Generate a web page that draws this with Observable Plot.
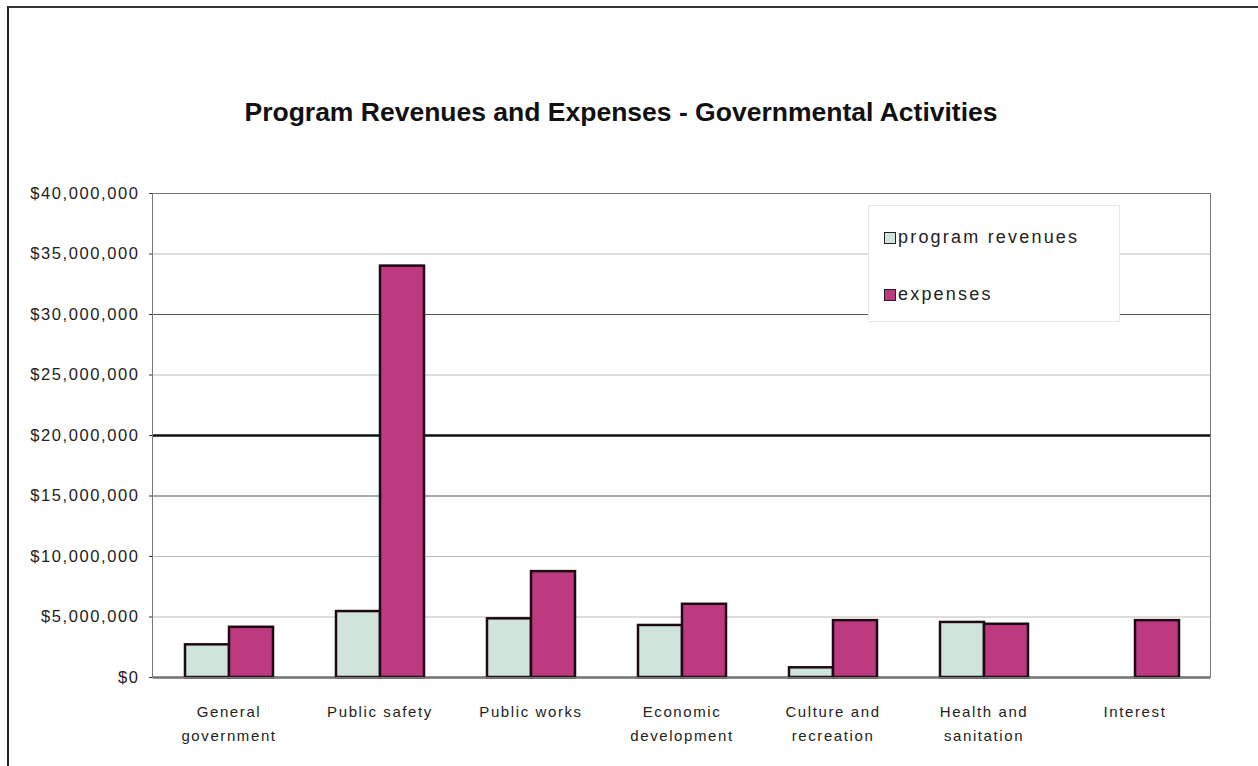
<!DOCTYPE html>
<html><head><meta charset="utf-8">
<script src="https://cdn.jsdelivr.net/npm/d3@7"></script>
<script src="https://cdn.jsdelivr.net/npm/@observablehq/plot@0.6"></script>
<style>
body{margin:0;background:#fff;font-family:"Liberation Sans",Arial,sans-serif;}
#wrap{position:relative;width:1258px;height:766px;overflow:hidden;}
#border{position:absolute;left:7px;top:6px;width:1258px;height:770px;border-left:2px solid #222;border-top:2px solid #333;box-sizing:border-box;}
#plotframe{position:absolute;left:152px;top:193px;width:1059px;height:485px;border:1.5px solid #777;box-sizing:border-box;pointer-events:none;}
#title{position:absolute;left:0;width:1242px;top:97px;text-align:center;font-weight:bold;font-size:26.5px;color:#111;}
#legend{position:absolute;left:868px;top:205px;width:252px;height:117px;background:#fff;border:1px solid #e8e8e8;box-sizing:border-box;font-size:18px;letter-spacing:2.2px;color:#222;}
.item{position:absolute;left:15px;display:flex;align-items:center;}
.sw{width:10px;height:10px;border:1.5px solid #222;margin-right:2px;}
#chart{position:absolute;left:0;top:0;}
#chart svg text{letter-spacing:1.6px;}
</style></head>
<body><div id="wrap"><div id="chart"></div><div id="plotframe"></div><div id="border"></div><div id="title">Program Revenues and Expenses - Governmental Activities</div><div id="legend"></div></div>
<script>
const categories = ["General\ngovernment","Public safety","Public works","Economic\ndevelopment","Culture and\nrecreation","Health and\nsanitation","Interest"];
const series = ["program revenues","expenses"];
const programRevenues = [2700000, 5450000, 4850000, 4300000, 800000, 4550000, 0];
const expenses = [4150000, 34000000, 8750000, 6050000, 4700000, 4400000, 4700000];
const yTicks = [0,5000000,10000000,15000000,20000000,25000000,30000000,35000000,40000000];
const colors = ["#d0e4dc","#bd3a80"];

const data = [];
categories.forEach((c,i)=>{
  data.push({category:c, series:series[0], value:programRevenues[i]});
  data.push({category:c, series:series[1], value:expenses[i]});
});

const chart = Plot.plot({
  width:1258, height:766,
  marginLeft:152, marginRight:48, marginTop:193, marginBottom:89,
  style:{fontFamily:"Liberation Sans, Arial, sans-serif", background:"transparent"},
  fx:{domain:categories, padding:0},
  x:{domain:series, paddingInner:0, paddingOuter:0.68, axis:null},
  y:{domain:[0,40000000]},
  color:{domain:series, range:colors},
  marks:[
    Plot.ruleY([5000000,10000000,25000000,35000000],{stroke:"#bbb",strokeWidth:1}),
    Plot.ruleY([15000000,30000000],{stroke:"#555",strokeWidth:1.2}),
    Plot.ruleY([20000000],{stroke:"#111",strokeWidth:2.5}),
    Plot.barY(data,{fx:"category",x:"series",y:"value",fill:"series",stroke:"#1e0a12",strokeWidth:2.5}),
    Plot.ruleY([0],{stroke:"#222",strokeWidth:2}),
    Plot.axisY({ticks:yTicks,tickFormat:d3.format("$,"),tickSize:4,tickPadding:10,fontSize:16.5,label:null,stroke:"#333",fill:"#222"}),
    Plot.axisFx({anchor:"bottom",tickSize:0,tickPadding:22,fontSize:15,lineHeight:1.6,label:null,fill:"#222"})
  ]
});
document.getElementById("chart").appendChild(chart);

const leg = document.getElementById("legend");
series.forEach((s,i)=>{
  const d=document.createElement("div");d.className="item";d.style.top=(i===0?21:78)+"px";
  d.innerHTML=`<span class="sw" style="background:${colors[i]}"></span><span>${s}</span>`;
  leg.appendChild(d);
});
</script></body></html>
